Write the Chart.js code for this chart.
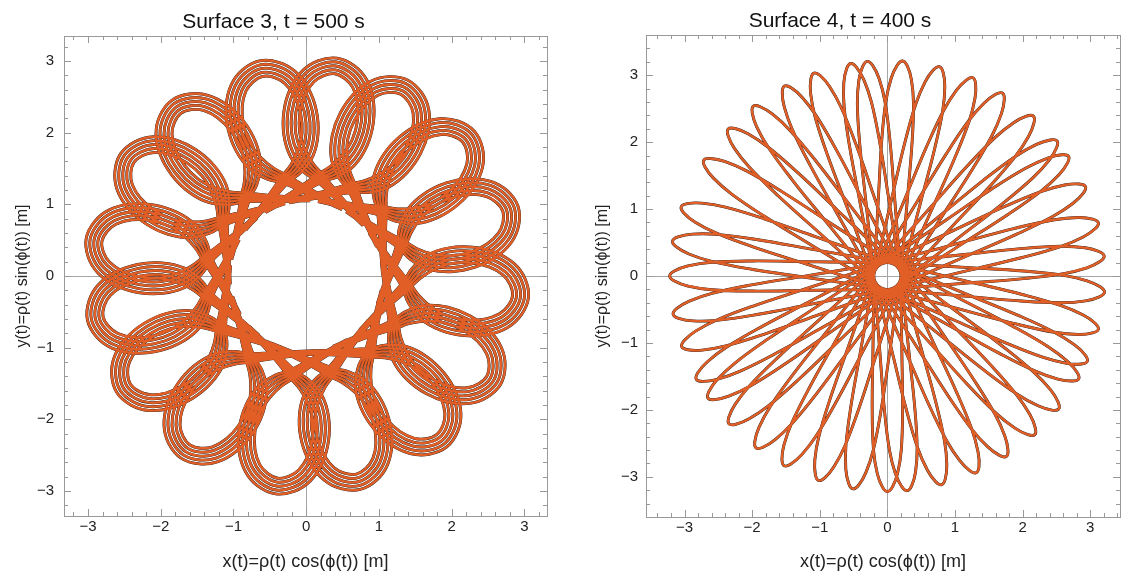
<!doctype html>
<html lang="en">
<head>
<meta charset="UTF-8">
<title>Surface trajectories</title>
<style>
  body { margin: 0; background: #fff; }
  .panel { position: absolute; top: 0; }
</style>
</head>
<body>
<div class="panel" style="left:0"><canvas id="surf3" width="560" height="575"></canvas></div>
<div class="panel" style="left:560px"><canvas id="surf4" width="565" height="575"></canvas></div>
<script src="https://cdn.jsdelivr.net/npm/chart.js@4.4.1/dist/chart.umd.min.js"></script>
<script>
// Data-----
// Surface 3: polar angle (deg) of each of the 16 lobe tips
const s3LobeTips = [18.5, 41.1, 62.9, 82.1, 102.1, 127.2, 146.2, 170.2, 191.5, 212, 235.9, 262.1, 284, 309, 330.6, 354.5];
// every lobe is passed 5 times; the passes lie side by side, this far apart [m]
const s3PassOffset = [-0.11, -0.055, 0, 0.055, 0.11];
// one loop from pericentre to pericentre, in the lobe frame (u = towards the tip) [m]
const s3LoopU = [0.82, 1.13, 1.38, 1.50, 1.68, 1.94, 2.24, 2.53, 2.76, 2.90, 2.96, 2.90, 2.76, 2.53, 2.24, 1.94, 1.68, 1.50, 1.38, 1.13, 0.82];
const s3LoopV = [-0.69, -0.30, 0, 0.18, 0.35, 0.47, 0.51, 0.47, 0.36, 0.20, 0, -0.20, -0.36, -0.47, -0.51, -0.47, -0.35, -0.18, 0, 0.30, 0.69];
// how much of the pass offset each point gets (passes merge near the pericentre)
const s3LoopSpread = [0.2, 0.35, 0.55, 0.8, 1, 1, 1, 1, 1, 1, 1, 1, 1, 1, 1, 1, 1, 0.8, 0.55, 0.35, 0.2];

// Surface 4: polar angle (deg) of each petal tip
const s4PetalTips = [5.3, 14.3, 24.5, 33.7, 38.8, 47.9, 58.1, 66.9, 76.2, 86, 95.3, 99.7, 109.7, 118.2, 128, 137, 147.5, 161.3, 170.7, 180,
                     190.2, 199.1, 208.6, 214.5, 223.3, 232.9, 241.7, 251.6, 260.9, 270, 275.2, 284.4, 294.1, 303.1, 312.6, 321.9, 331.5, 336.7, 345.7, 355.7];
const s4PassOffset = [0];
// one petal, pericentre to pericentre, in the petal frame [m]
const s4PetalU = [0, 0.5, 1.2, 2.0, 2.6, 2.95, 3.15, 3.22, 3.15, 2.95, 2.6, 2.0, 1.2, 0.5, 0];
const s4PetalV = [-0.20, -0.205, -0.215, -0.225, -0.205, -0.15, -0.075, 0, 0.075, 0.15, 0.205, 0.225, 0.215, 0.205, 0.20];
const s4PetalSpread = [0, 0, 0, 0, 0, 0, 0, 0, 0, 0, 0, 0, 0, 0, 0];

const tickValues = [-3, -2, -1, 0, 1, 2, 3];
// Data-----

const FONT = 'Liberation Sans, Arial, sans-serif';
const ORANGE = '#e15f26';

// put the loop template at every tip and pass, a gap between loops
function placeTemplate(tips, offsets, us, vs, spread) {
    const pts = [];
    const last = us.length - 1;
    offsets.forEach(off => tips.forEach(tip => {
        const a = tip * Math.PI / 180, c = Math.cos(a), s = Math.sin(a);
        us.forEach((u0, i) => {
            const p = Math.max(i - 1, 0), n = Math.min(i + 1, last);
            const du = us[n] - us[p], dv = vs[n] - vs[p];
            const len = Math.hypot(du, dv) || 1;
            const u = u0 + off * spread[i] * dv / len;
            const v = vs[i] - off * spread[i] * du / len;
            pts.push({x: u * c - v * s, y: u * s + v * c});
        });
        pts.push({x: null, y: null});
    }));
    return pts;
}

const fmt = v => v < 0 ? '\u2212' + Math.abs(v) : String(v);

// Mathematica style frame: zero axes behind, box with inward ticks on top
const framePlugin = {
    id: 'frame',
    beforeDatasetsDraw(chart) {
        const {ctx, chartArea: a, scales: {x, y}} = chart;
        ctx.save();
        ctx.strokeStyle = '#a6a6a6';
        ctx.lineWidth = 1;
        const x0 = Math.round(x.getPixelForValue(0)) + 0.5;
        const y0 = Math.round(y.getPixelForValue(0)) + 0.5;
        ctx.beginPath();
        ctx.moveTo(x0, a.top); ctx.lineTo(x0, a.bottom);
        ctx.moveTo(a.left, y0); ctx.lineTo(a.right, y0);
        ctx.stroke();
        ctx.restore();
    },
    afterDatasetsDraw(chart) {
        const {ctx, chartArea: a, scales: {x, y}} = chart;
        ctx.save();
        ctx.strokeStyle = '#999';
        ctx.lineWidth = 1;
        ctx.strokeRect(Math.round(a.left) + 0.5, Math.round(a.top) + 0.5,
                       Math.round(a.right - a.left), Math.round(a.bottom - a.top));
        ctx.beginPath();
        for (let k = Math.ceil(x.min * 5); k <= Math.floor(x.max * 5); k++) {
            const px = Math.round(x.getPixelForValue(k / 5)) + 0.5;
            const len = k % 5 === 0 ? 7 : 4;
            ctx.moveTo(px, a.bottom); ctx.lineTo(px, a.bottom - len);
            ctx.moveTo(px, a.top); ctx.lineTo(px, a.top + len);
        }
        for (let k = Math.ceil(y.min * 5); k <= Math.floor(y.max * 5); k++) {
            const py = Math.round(y.getPixelForValue(k / 5)) + 0.5;
            const len = k % 5 === 0 ? 7 : 4;
            ctx.moveTo(a.left, py); ctx.lineTo(a.left + len, py);
            ctx.moveTo(a.right, py); ctx.lineTo(a.right - len, py);
        }
        ctx.stroke();
        ctx.restore();
    }
};

function makeChart(id, title, pts, box) {
    return new Chart(document.getElementById(id), {
        type: 'scatter',
        data: {
            datasets: [
                { data: pts, showLine: true, pointRadius: 0, borderColor: ORANGE, borderWidth: 2.4, tension: 0.4 },
                { data: pts, showLine: true, pointRadius: 0, borderColor: '#1a1a1a', borderWidth: 2.9, tension: 0.4 }
            ]
        },
        options: {
            responsive: false,
            animation: false,
            devicePixelRatio: 1,
            layout: { padding: { left: 0, right: box.padRight, top: 0, bottom: 0 } },
            plugins: {
                legend: { display: false },
                tooltip: { enabled: false },
                title: {
                    display: true, text: title, color: '#111',
                    font: { size: 21, weight: 'normal', family: FONT, lineHeight: 1.2 },
                    padding: { top: box.titleTop, bottom: 1.4 }
                }
            },
            scales: {
                x: {
                    type: 'linear', min: box.x[0], max: box.x[1],
                    afterFit: s => { s.height = box.xHeight; },
                    afterBuildTicks: s => { s.ticks = tickValues.map(v => ({value: v})); },
                    grid: { display: false, drawTicks: false },
                    border: { display: false },
                    ticks: { padding: 2, color: '#222', autoSkip: false, maxRotation: 0,
                             font: { size: 15, family: FONT }, callback: fmt },
                    title: { display: true, text: 'x(t)=\u03c1(t) cos(\u03d5(t)) [m]', color: '#222',
                             font: { size: 18, family: FONT }, padding: { top: 0, bottom: 2.2 } }
                },
                y: {
                    type: 'linear', min: box.y[0], max: box.y[1],
                    afterFit: s => { s.width = box.yWidth; },
                    afterBuildTicks: s => { s.ticks = tickValues.map(v => ({value: v})); },
                    grid: { display: false, drawTicks: false },
                    border: { display: false },
                    ticks: { padding: box.yLabelPad, color: '#222', autoSkip: false,
                             font: { size: 15, family: FONT }, callback: fmt },
                    title: { display: true, text: 'y(t)=\u03c1(t) sin(\u03d5(t)) [m]', color: '#222',
                             font: { size: 16, family: FONT }, padding: { top: box.yTitlePad, bottom: 0 } }
                }
            }
        },
        plugins: [framePlugin]
    });
}

makeChart('surf3', 'Surface 3, t = 500 s',
    placeTemplate(s3LobeTips, s3PassOffset, s3LoopU, s3LoopV, s3LoopSpread),
    { x: [-3.33, 3.31], y: [-3.35, 3.35], yWidth: 64, xHeight: 59, padRight: 13, titleTop: 9.4, yLabelPad: 10, yTitlePad: 13.4 });

makeChart('surf4', 'Surface 4, t = 400 s',
    placeTemplate(s4PetalTips, s4PassOffset, s4PetalU, s4PetalV, s4PetalSpread),
    { x: [-3.57, 3.44], y: [-3.6, 3.6], yWidth: 86, xHeight: 58, padRight: 5, titleTop: 8.4, yLabelPad: 8, yTitlePad: 33.4 });
</script>
</body>
</html>
